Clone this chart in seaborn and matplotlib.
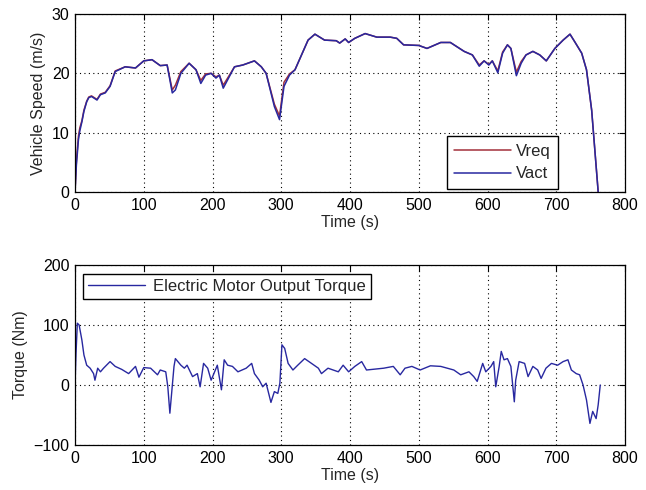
import numpy as np
import pandas as pd
import matplotlib
matplotlib.use("Agg")
import matplotlib.pyplot as plt
import seaborn as sns

# ---- Data ----
t_speed = [0, 2, 5, 7, 10, 13, 17, 20, 24, 32, 37, 44, 51, 58.5, 73, 88, 100, 112, 124, 134,
           141.5, 146, 154, 166, 176, 183, 190, 198, 205, 210, 215.6, 222, 232, 244, 261, 271,
           278, 290, 297.5, 304, 312, 320, 339, 349, 363, 380, 385, 393, 398, 407, 422, 439,
           458.5, 468, 478, 500, 512, 532, 546, 566, 578, 588, 595, 602, 607, 615, 622, 629,
           634, 642, 649, 656, 666, 676, 685.5, 698, 710, 720, 727, 737, 744, 751.5, 761]
v_act = [0, 4.5, 8.8, 10.3, 11.8, 13.6, 15.2, 15.9, 16.1, 15.5, 16.4, 16.7, 17.8, 20.3, 21.1,
         20.9, 22.1, 22.3, 21.3, 21.4, 16.7, 17.2, 20, 21.7, 20.6, 18.3, 19.7, 20, 19.2, 19.7,
         17.5, 18.9, 21.1, 21.4, 22.1, 21.1, 20, 14.4, 12.2, 17.8, 19.7, 20.6, 25.6, 26.6,
         25.6, 25.5, 25.1, 25.8, 25.2, 25.9, 26.7, 26.1, 26.1, 25.9, 24.8, 24.7, 24.2, 25.2,
         25.2, 23.7, 23.1, 21.2, 22.1, 21.4, 22.1, 20.1, 23.4, 24.8, 24.2, 19.6, 21.7, 23.1,
         23.7, 23.1, 22.1, 24.2, 25.6, 26.6, 25.3, 23.4, 20.6, 13.8, 0]
v_req = [0, 5.2, 9.4, 10.8, 12.0, 13.8, 15.3, 16.0, 16.2, 15.6, 16.5, 16.8, 17.9, 20.4, 21.1,
         20.9, 22.1, 22.3, 21.3, 21.4, 17.2, 18.0, 20.3, 21.7, 20.6, 18.8, 19.9, 20, 19.4,
         19.7, 18.0, 19.2, 21.1, 21.4, 22.1, 21.1, 20, 14.8, 12.8, 18.5, 19.9, 20.6, 25.6,
         26.6, 25.6, 25.5, 25.1, 25.8, 25.2, 25.9, 26.7, 26.1, 26.1, 25.9, 24.8, 24.7, 24.2,
         25.2, 25.2, 23.7, 23.1, 21.4, 22.1, 21.5, 22.1, 20.4, 23.6, 24.8, 24.2, 20.2, 22.0,
         23.1, 23.7, 23.1, 22.1, 24.2, 25.6, 26.6, 25.3, 23.4, 20.6, 13.8, 0]

t_torque = [0, 1.5, 3.4, 6, 10, 13, 17, 22, 27, 29, 33, 37, 41.5, 51, 58.5, 68, 78, 88, 93,
            100, 110, 120, 124, 132, 135, 138, 141, 144, 146, 154, 159, 163, 171, 178, 182,
            187, 193, 198, 202, 207, 213, 217, 222, 229, 237, 249, 257, 261, 268, 273, 278,
            285, 290, 295, 298, 301, 305, 310, 317, 324, 334, 344, 354, 358.5, 368, 383,
            390, 398, 407, 417, 424, 449, 463, 473, 480, 490, 502, 517, 532, 551, 561,
            573, 580, 585, 593, 597.5, 605, 609, 612, 617, 620, 624, 629, 634, 639, 641,
            646, 654, 659, 666, 673, 678, 685, 693, 702, 710, 717, 722, 729, 734, 739,
            744, 749, 753, 758, 761, 764]
torque = [0, 53, 103, 100, 75, 50, 33, 28, 19, 8, 28, 22, 28, 39, 31, 26, 19, 31, 13,
          29, 28, 17, 25, 22, -3, -47, -8, 31, 44, 33, 28, 33, 14, 19, -3,
          36, 28, 8, 19, 33, -8, 42, 33, 31, 22, 28, 36, 19, 8, -3, 3,
          -29, -11, -14, 3, 67, 61, 36, 25, 33, 44, 36, 28, 19, 28, 22,
          33, 22, 31, 39, 25, 28, 31, 17, 28, 31, 25, 32, 31, 25, 17,
          22, 14, 6, 36, 22, 31, 39, -3, 31, 56, 42, 44, 31, -28, 8,
          39, 36, 14, 31, 25, 11, 28, 36, 33, 39, 42, 25, 19, 17, 0,
          -25, -64, -44, -56, -33, 0]

speed_df = pd.concat([
    pd.DataFrame({"Time": t_speed, "Speed": v_req, "Series": "Vreq"}),
    pd.DataFrame({"Time": t_speed, "Speed": v_act, "Series": "Vact"}),
])
torque_df = pd.DataFrame({"Time": t_torque, "Torque": torque,
                          "Series": "Electric Motor Output Torque"})

# ---- Style ----
sns.set_style("white")
plt.rcParams["font.family"] = ["Liberation Sans", "DejaVu Sans"]
plt.rcParams["font.size"] = 11

fig = plt.figure(figsize=(6.46, 4.90), dpi=100)
ax1 = fig.add_axes([75/646, 1-192/490, 550/646, 178/490])
ax2 = fig.add_axes([75/646, 1-445/490, 550/646, 180/490])

palette = {"Vreq": "#a3303a", "Vact": "#2828a0"}
sns.lineplot(data=speed_df, x="Time", y="Speed", hue="Series", palette=palette,
             hue_order=["Vreq", "Vact"], sort=False, estimator=None, ax=ax1, linewidth=1.1)
sns.lineplot(data=torque_df, x="Time", y="Torque", hue="Series",
             palette={"Electric Motor Output Torque": "#2828a0"}, sort=False,
             estimator=None, ax=ax2, linewidth=1.0)

for ax in (ax1, ax2):
    ax.set_xlim(0, 800)
    ax.set_xticks(range(0, 801, 100))
    ax.grid(True, linestyle=(0, (1, 3)), color="black", linewidth=0.8)
    ax.tick_params(direction="in", top=True, right=True, length=4, width=0.8,
                   labelsize=11.5, colors="black", pad=4)
    for s in ax.spines.values():
        s.set_color("black")
        s.set_linewidth(0.9)
    ax.set_xlabel("Time (s)", fontsize=11.5, labelpad=2)

ax1.set_ylim(0, 30)
ax1.set_yticks([0, 10, 20, 30])
ax1.set_ylabel("Vehicle Speed (m/s)", fontsize=11.5, labelpad=4)
ax2.set_ylim(-100, 200)
ax2.set_yticks([-100, 0, 100, 200])
ax2.set_ylabel("Torque (Nm)", fontsize=11.5, labelpad=4)

leg1 = ax1.legend(loc="lower left", bbox_to_anchor=(0.676, 0.017), borderaxespad=0,
                  fancybox=False, edgecolor="black", framealpha=1, fontsize=12,
                  handlelength=3.4, handletextpad=0.3, labelspacing=0.45,
                  borderpad=0.45, title=None)
leg1.get_frame().set_linewidth(1.0)
leg2 = ax2.legend(loc="upper left", bbox_to_anchor=(0.0145, 0.95), borderaxespad=0,
                  fancybox=False, edgecolor="black", framealpha=1, fontsize=12,
                  handlelength=3.4, handletextpad=0.5, borderpad=0.3, title=None)
leg2.get_frame().set_linewidth(1.0)

fig.savefig("out.png", dpi=100)
